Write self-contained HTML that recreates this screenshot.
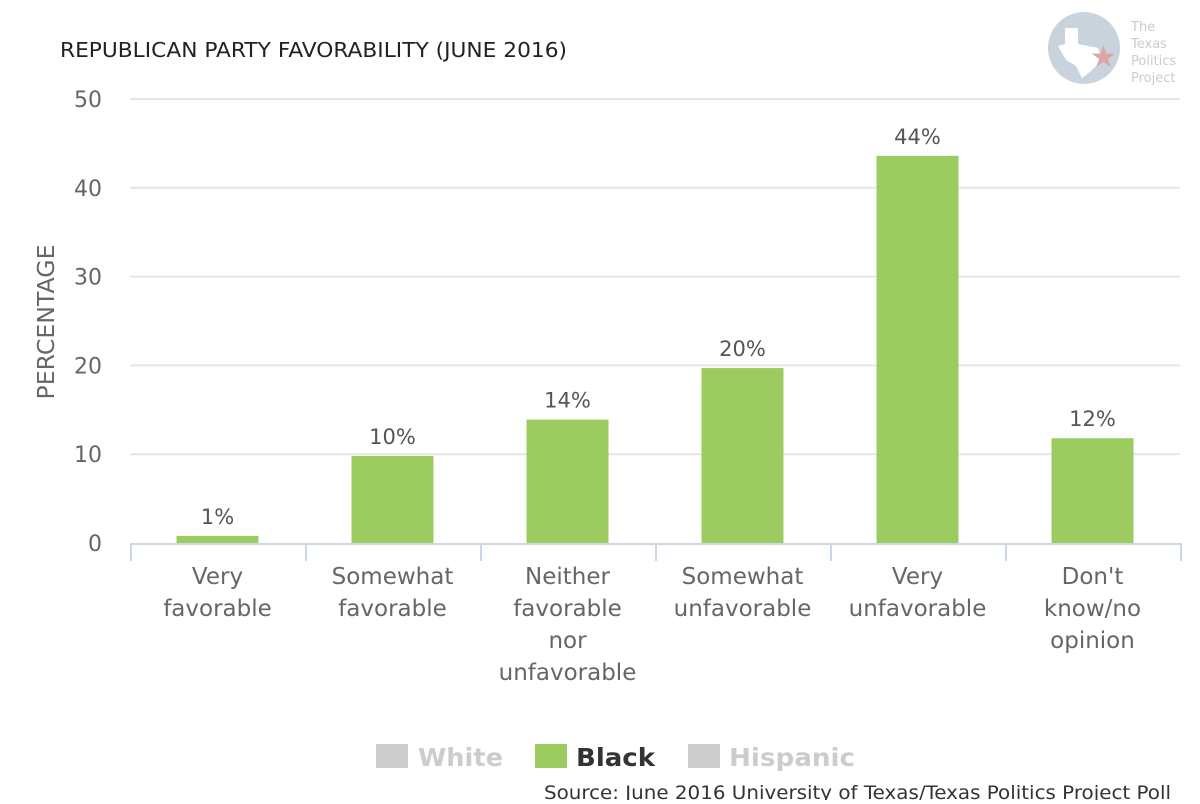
<!DOCTYPE html>
<html><head><meta charset="utf-8"><style>
body{margin:0;background:#fff;font-family:"DejaVu Sans","Liberation Sans",sans-serif;}
svg text{font-family:"DejaVu Sans","Liberation Sans",sans-serif;}
</style></head><body>
<svg id="c" width="1200" height="800">
<text x="60" y="57" font-size="20" fill="#222" textLength="507" lengthAdjust="spacingAndGlyphs">REPUBLICAN PARTY FAVORABILITY (JUNE 2016)</text>
<g>
<circle cx="1084" cy="48" r="36" fill="#c9d3de"/>
<polygon points="1065,28 1078,28 1078,44 1098,48 1102,60 1090,72 1082,78 1076,66 1066,60 1058,46 1065,44" fill="#fff"/>
<text x="1090" y="67" font-size="30" fill="#dba6a8">★</text>
<text x="1131" y="31" font-size="13" fill="#c8ccd2">The</text>
<text x="1131" y="48" font-size="13" fill="#c8ccd2">Texas</text>
<text x="1131" y="65" font-size="13" fill="#c8ccd2">Politics</text>
<text x="1131" y="82" font-size="13" fill="#c8ccd2">Project</text>
</g>
<text transform="translate(54,322) rotate(-90)" text-anchor="middle" font-size="23" fill="#666" textLength="155" lengthAdjust="spacingAndGlyphs">PERCENTAGE</text>
<g id="grid"></g><g id="bars"></g>
<g>
<rect x="376" y="744" width="32" height="24" fill="#ccc"/>
<text x="418" y="766" font-size="25" font-weight="bold" fill="#ccc" textLength="85" lengthAdjust="spacingAndGlyphs">White</text>
<rect x="535" y="744" width="32" height="24" fill="#9ccc5f"/>
<text x="576" y="766" font-size="25" font-weight="bold" fill="#333" textLength="79" lengthAdjust="spacingAndGlyphs">Black</text>
<rect x="688" y="744" width="32" height="24" fill="#ccc"/>
<text x="729" y="766" font-size="25" font-weight="bold" fill="#ccc" textLength="126" lengthAdjust="spacingAndGlyphs">Hispanic</text>
</g>
<text x="544" y="799" font-size="19" fill="#333" textLength="627" lengthAdjust="spacingAndGlyphs">Source: June 2016 University of Texas/Texas Politics Project Poll</text>
</svg>
<script>
const categories=[["Very","favorable"],["Somewhat","favorable"],["Neither","favorable","nor","unfavorable"],["Somewhat","unfavorable"],["Very","unfavorable"],["Don't","know/no","opinion"]];
const values=[0.8,9.8,13.9,19.7,43.6,11.8];
const labels=["1%","10%","14%","20%","44%","12%"];
const yTicks=[0,10,20,30,40,50];
const NS="http://www.w3.org/2000/svg";
const x0=130,x1=1180,y0=543,yTop=99,yMax=50;
const bw=(x1-x0)/categories.length;
const y=v=>y0-(y0-yTop)*v/yMax;
const xc=i=>x0+bw*(i+0.5);
function mk(t,a,p){const e=document.createElementNS(NS,t);for(const k in a)e.setAttribute(k,a[k]);p.appendChild(e);return e;}
const g=document.getElementById('grid'),b=document.getElementById('bars');
yTicks.forEach(t=>{
 if(t>0){const l=mk('line',{x1:x0,x2:x1,y1:y(t),y2:y(t),stroke:'#e6e6e6','stroke-width':2},g);
 
 }
 const tx=mk('text',{x:102,y:y(t)+8,'text-anchor':'end','font-size':22,fill:'#666'},g);tx.textContent=t;
 
 
});
const ax=mk('line',{x1:x0,x2:x1+2,y1:y0+1,y2:y0+1,stroke:'#ccd6eb','stroke-width':2},g);


for(let i=0;i<=categories.length;i++){const tk=mk('line',{x1:x0+bw*i+1,x2:x0+bw*i+1,y1:y0,y2:y0+18,stroke:'#ccd6eb','stroke-width':2},g);
 
 }
values.forEach((v,i)=>{
 const r=mk('rect',{x:xc(i)-41,y:y(v),width:82,height:y0-y(v),fill:'#9ccc5f'},b);
 
 
 const t=mk('text',{x:xc(i),y:y(v)-12,'text-anchor':'middle','font-size':21,fill:'#555'},b);t.textContent=labels[i];
 
 
 categories[i].forEach((w,j)=>{const c=mk('text',{x:xc(i),y:584+j*32,'text-anchor':'middle','font-size':23,fill:'#666'},b);c.textContent=w;
 
 });
});
</script>
</body></html>
